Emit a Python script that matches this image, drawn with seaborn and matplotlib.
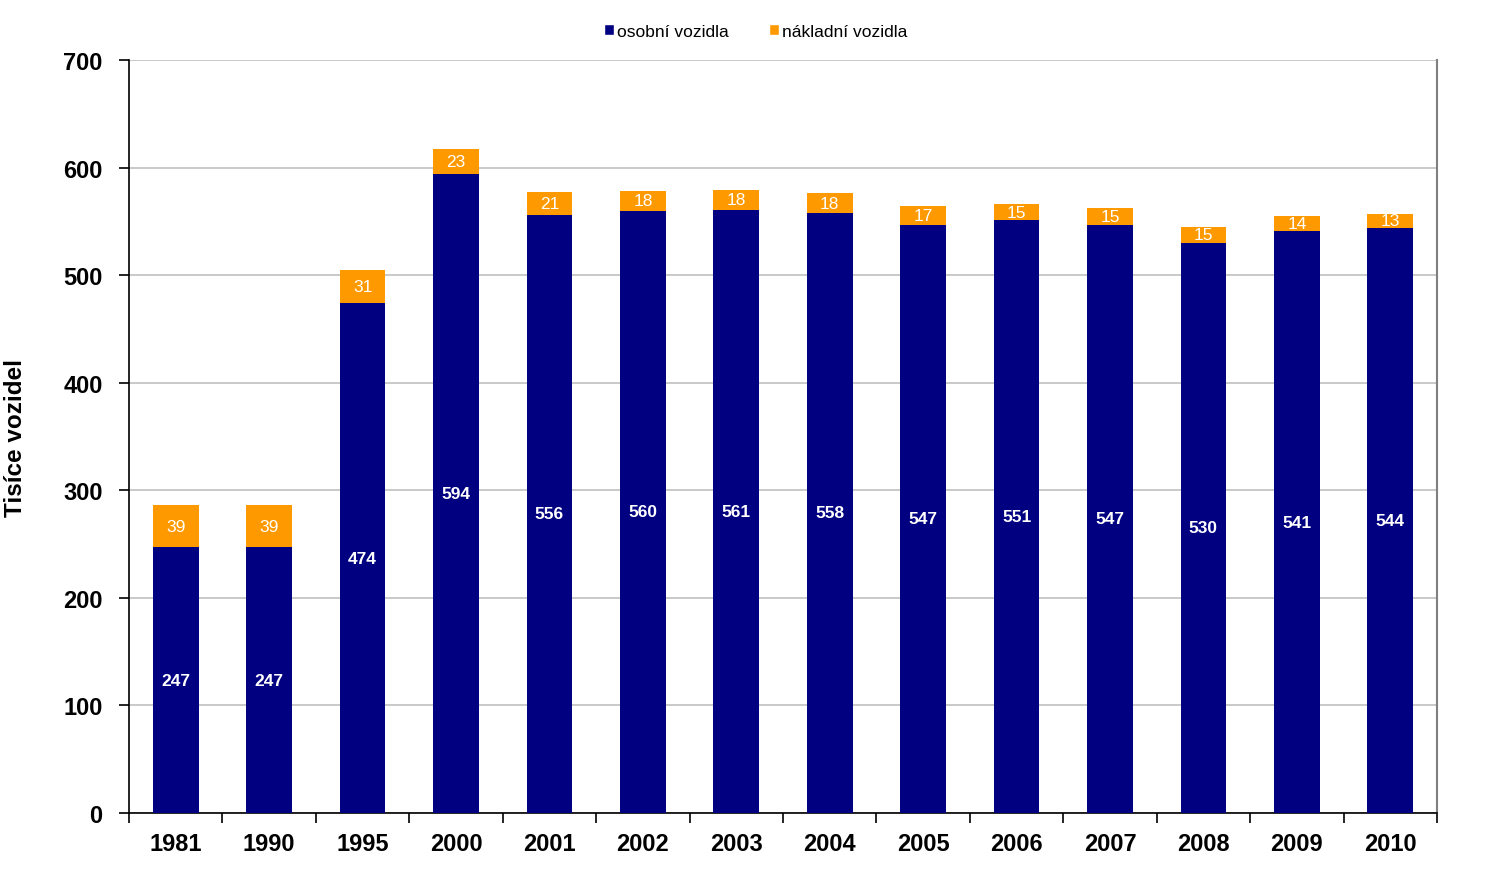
import matplotlib
matplotlib.use("Agg")
import matplotlib.pyplot as plt
import seaborn as sns
import pandas as pd
import numpy as np
from matplotlib.patches import Patch

years = ["1981", "1990", "1995", "2000", "2001", "2002", "2003", "2004", "2005", "2006", "2007", "2008", "2009", "2010"]
osobni = [247, 247, 474, 594, 556, 560, 561, 558, 547, 551, 547, 530, 541, 544]
nakladni = [39, 39, 31, 23, 21, 18, 18, 18, 17, 15, 15, 15, 14, 13]

navy = "#000080"
orange = "#FF9900"

sns.set_theme(style="white")
plt.rcParams["font.family"] = ["Liberation Sans", "DejaVu Sans"]
plt.rcParams["text.color"] = "black"
plt.rcParams["xtick.color"] = "black"
plt.rcParams["ytick.color"] = "black"
plt.rcParams["axes.labelcolor"] = "black"

df = pd.DataFrame({"year": years, "osobni": osobni, "nakladni": nakladni})

fig = plt.figure(figsize=(15.02, 8.78), dpi=100)
ax = fig.add_axes([0.0859, 0.0729, 0.8708, 0.8576])

sns.barplot(data=df, x="year", y="osobni", color=navy, width=0.49, ax=ax,
            saturation=1, linewidth=0, zorder=3)
sns.barplot(data=df, x="year", y="nakladni", color=orange, width=0.49, ax=ax,
            saturation=1, linewidth=0, bottom=df["osobni"].values, zorder=3)

ax.set_ylim(0, 700)
ax.set_xlim(-0.5, len(years) - 0.5)
ax.set_yticks(range(0, 701, 100))
ax.yaxis.grid(True, color="#c0c0c0", linewidth=1.2, zorder=0)
ax.set_axisbelow(True)

for i, (o, n) in enumerate(zip(osobni, nakladni)):
    ax.text(i, o / 2, str(o), ha="center", va="center", color="white",
            fontsize=12.5, fontweight="bold", zorder=5)
    ax.text(i, o + n / 2, str(n), ha="center", va="center", color="white",
            fontsize=12.5, zorder=5)

# spines
for s in ["left", "bottom"]:
    ax.spines[s].set_color("black")
    ax.spines[s].set_linewidth(1.2)
ax.spines["right"].set_color("#808080")
ax.spines["right"].set_linewidth(1.5)
ax.spines["top"].set_visible(False)

ax.set_xticks(range(len(years)))
ax.set_xticklabels(years)
ax.set_xticks(np.arange(-0.5, len(years), 1.0), minor=True)
ax.tick_params(axis="x", which="major", length=0, pad=14, labelsize=17, labelcolor="black")
ax.tick_params(axis="x", which="minor", length=7, width=1.2, color="black", direction="out", bottom=True)
ax.tick_params(axis="y", which="major", length=7, width=1.2, color="black", direction="out", left=True,
               labelsize=17, pad=12, labelcolor="black")
for lab in ax.get_xticklabels() + ax.get_yticklabels():
    lab.set_fontweight("bold")

ax.set_xlabel("")
ax.set_ylabel("Tisíce vozidel", fontsize=17.5, fontweight="bold", labelpad=26, color="black")

handles = [Patch(facecolor=navy, label="osobní vozidla"), Patch(facecolor=orange, label="nákladní vozidla")]
fig.legend(handles=handles, loc="center", bbox_to_anchor=(0.503, 0.963), ncol=2, frameon=False,
           fontsize=12.5, handlelength=0.6, handleheight=0.6, handletextpad=0.15, columnspacing=2.3)

fig.savefig("out.png", dpi=100)
